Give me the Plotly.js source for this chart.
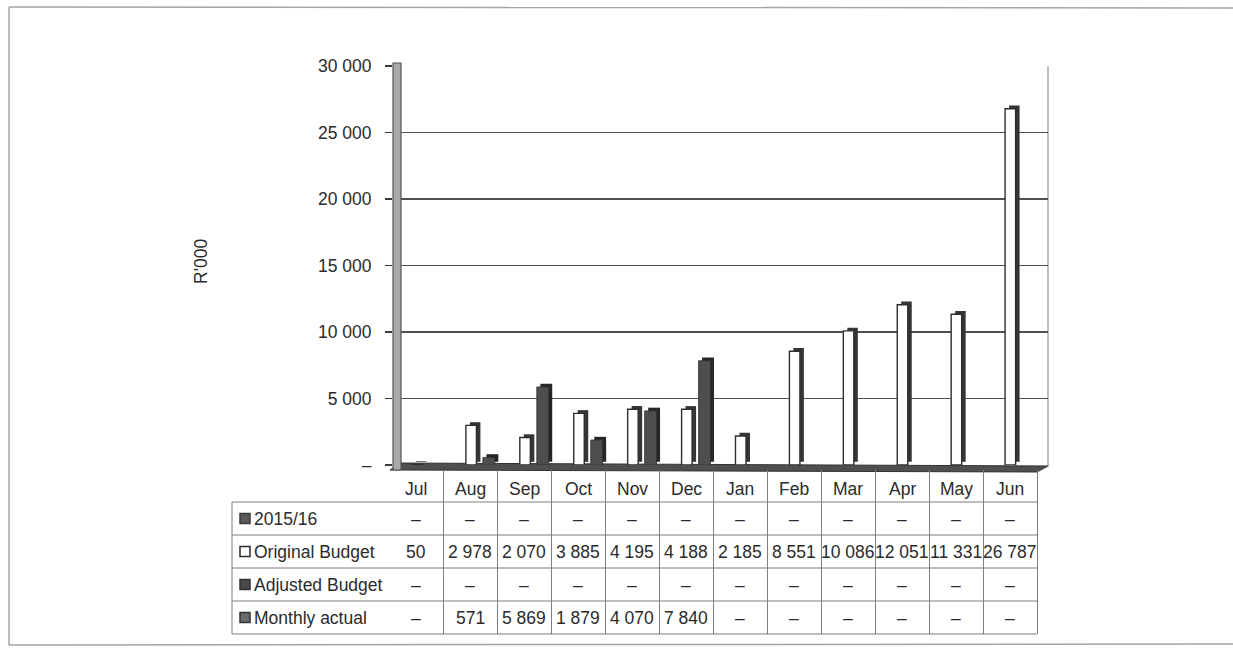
<!DOCTYPE html>
<html>
<head>
<meta charset="utf-8">
<script src="https://cdn.plot.ly/plotly-3.0.1.min.js"></script>
<style>
  html, body { margin: 0; padding: 0; background: #fff; overflow: hidden; }
  #chart { width: 1233px; height: 651px; }
</style>
</head>
<body>
<div id="chart"></div>
<script>
// Monthly figures, R'000
const months = ['Jul', 'Aug', 'Sep', 'Oct', 'Nov', 'Dec', 'Jan', 'Feb', 'Mar', 'Apr', 'May', 'Jun'];
const prior2015 = [null, null, null, null, null, null, null, null, null, null, null, null];
const originalBudget = [50, 2978, 2070, 3885, 4195, 4188, 2185, 8551, 10086, 12051, 11331, 26787];
const adjustedBudget = [null, null, null, null, null, null, null, null, null, null, null, null];
const monthlyActual = [null, 571, 5869, 1879, 4070, 7840, null, null, null, null, null, null];

const rowLabels = ['2015/16', 'Original Budget', 'Adjusted Budget', 'Monthly actual'];
const yTickVals = [0, 5000, 10000, 15000, 20000, 25000, 30000];
const yTickText = ['–', '5 000', '10 000', '15 000', '20 000', '25 000', '30 000'];

// Pick the condensed face when it exists
function fontAvailable(name) {
  const ctx = document.createElement('canvas').getContext('2d');
  const sample = 'Original Budget 30 000';
  ctx.font = '40px monospace';
  const base = ctx.measureText(sample).width;
  ctx.font = '40px "' + name + '", monospace';
  return ctx.measureText(sample).width !== base;
}
const narrow = fontAvailable('Liberation Sans Narrow');
const FONT = narrow ? '"Liberation Sans Narrow", "Liberation Sans", sans-serif' : '"Liberation Sans", Arial, sans-serif';
const FS = narrow ? 21 : 17.5;
const TEXT = '#2b2b2b';

const fmt = v => (v ? String(v).replace(/\B(?=(\d{3})+(?!\d))/g, ' ') : '–');

// plot area in pixels: x 393..1048, y 66..465
const L = 393, R = 1048, T = 66, B = 465;
const px2x = px => (px - L) / (R - L);
const py2y = py => (B - py) / (B - T);

// pseudo-3D depth of each column (value units)
const DEPTH = 240;

const traces = [
  { type: 'bar', x: months, y: originalBudget, base: DEPTH, offset: -0.222, width: 0.195,
    marker: { color: '#353535', line: { width: 0 } }, hoverinfo: 'skip', showlegend: false },
  { type: 'bar', name: 'Original Budget', x: months, y: originalBudget, offset: -0.296, width: 0.195,
    marker: { color: '#ffffff', line: { color: '#2e2e2e', width: 1.4 } }, showlegend: false },
  { type: 'bar', x: months, y: monthlyActual, base: DEPTH, offset: 0.085, width: 0.22,
    marker: { color: '#262626', line: { width: 0 } }, hoverinfo: 'skip', showlegend: false },
  { type: 'bar', name: 'Monthly actual', x: months, y: monthlyActual, offset: 0.019, width: 0.22,
    marker: { color: '#4e4e4e', line: { color: '#303030', width: 0.8 } }, showlegend: false }
];

const shapes = [];
const annotations = [];

// outer frame (open on the right)
const frameLine = { color: '#a5a5a5', width: 1.5 };
shapes.push({ type: 'line', xref: 'paper', yref: 'paper', layer: 'below',
  x0: px2x(9), x1: px2x(1233), y0: py2y(7), y1: py2y(8), line: frameLine });
shapes.push({ type: 'line', xref: 'paper', yref: 'paper', layer: 'below',
  x0: px2x(9), x1: px2x(9), y0: py2y(7), y1: py2y(645), line: frameLine });
shapes.push({ type: 'line', xref: 'paper', yref: 'paper', layer: 'below',
  x0: px2x(9), x1: px2x(1233), y0: py2y(645), y1: py2y(644), line: frameLine });

// floor
shapes.push({ type: 'path', xref: 'paper', yref: 'paper', layer: 'below',
  path: 'M ' + px2x(390) + ',' + py2y(470) + ' L ' + px2x(1037) + ',' + py2y(472) +
        ' L ' + px2x(1048) + ',' + py2y(466) + ' L ' + px2x(401) + ',' + py2y(463) + ' Z',
  fillcolor: '#4f4f4f', line: { color: '#333333', width: 1 } });

// left wall
shapes.push({ type: 'rect', xref: 'paper', yref: 'paper', layer: 'above',
  x0: px2x(393), x1: px2x(401), y0: py2y(470), y1: py2y(63),
  fillcolor: '#a9a9a9', line: { color: '#555555', width: 1.2 } });

// right wall edge
shapes.push({ type: 'line', xref: 'paper', yref: 'paper', layer: 'below',
  x0: px2x(1048), x1: px2x(1048), y0: py2y(467), y1: py2y(66),
  line: { color: '#7a7a7a', width: 1 } });

// data table grid
const rowEdges = [502, 535, 568, 601, 634];
const gridLine = { color: '#7d7d7d', width: 1 };
for (let k = 0; k <= months.length; k++) {
  shapes.push({ type: 'line', xref: 'x2', yref: 'paper', x0: k - 0.5, x1: k - 0.5,
    y0: py2y(470), y1: py2y(634), line: gridLine });
}
rowEdges.forEach(py => {
  shapes.push({ type: 'line', xref: 'paper', yref: 'paper', x0: px2x(232), x1: px2x(1037),
    y0: py2y(py), y1: py2y(py), line: gridLine });
});
shapes.push({ type: 'line', xref: 'paper', yref: 'paper', x0: px2x(232), x1: px2x(232),
  y0: py2y(502), y1: py2y(634), line: gridLine });

// legend keys in the row headers
const keyStyles = [
  { fill: '#5a5a5a', line: '#3a3a3a' },
  { fill: '#ffffff', line: '#2a2a2a' },
  { fill: '#4a4a4a', line: '#333333' },
  { fill: '#6a6a6a', line: '#333333' }
];
const rowData = [prior2015, originalBudget, adjustedBudget, monthlyActual];
rowLabels.forEach((label, r) => {
  const cy = (rowEdges[r] + rowEdges[r + 1]) / 2;
  shapes.push({ type: 'rect', xref: 'paper', yref: 'paper',
    x0: px2x(240), x1: px2x(250), y0: py2y(cy + 5), y1: py2y(cy - 5),
    fillcolor: keyStyles[r].fill, line: { color: keyStyles[r].line, width: 1.5 } });
  annotations.push({ xref: 'paper', yref: 'paper', x: px2x(252), y: py2y(cy),
    xanchor: 'left', yanchor: 'middle', showarrow: false, text: label,
    font: { family: FONT, size: FS, color: TEXT } });
  rowData[r].forEach((v, k) => {
    annotations.push({ xref: 'x2', yref: 'paper', x: k, y: py2y(cy),
      xanchor: 'center', yanchor: 'middle', showarrow: false, text: fmt(v),
      font: { family: FONT, size: FS, color: TEXT } });
  });
});

// month headers
months.forEach((m, k) => {
  annotations.push({ xref: 'x2', yref: 'paper', x: k, y: py2y(489),
    xanchor: 'center', yanchor: 'middle', showarrow: false, text: m,
    font: { family: FONT, size: FS, color: TEXT } });
});

// value axis title
annotations.push({ xref: 'paper', yref: 'paper', x: px2x(201), y: py2y(262),
  xanchor: 'center', yanchor: 'middle', showarrow: false, text: "R'000", textangle: -90,
  font: { family: FONT, size: FS, color: TEXT } });

const layout = {
  width: 1233, height: 651,
  margin: { l: L, r: 1233 - R, t: T, b: 651 - B, pad: 0 },
  paper_bgcolor: '#ffffff', plot_bgcolor: '#ffffff',
  barmode: 'overlay',
  showlegend: false,
  xaxis: { type: 'category', categoryorder: 'array', categoryarray: months,
    range: [-0.5 - 8 / 54, 11.5], showticklabels: false, ticks: '',
    showgrid: false, zeroline: false, showline: false, fixedrange: true },
  xaxis2: { type: 'linear', overlaying: 'x', anchor: 'y', side: 'bottom',
    range: [-0.435, -0.435 + (R - L) / 54], showticklabels: false, ticks: '',
    showgrid: false, zeroline: false, showline: false, fixedrange: true },
  yaxis: { range: [0, 30000], tickvals: yTickVals, ticktext: yTickText,
    ticks: 'outside', ticklen: 7, tickwidth: 1.5, tickcolor: '#3a3a3a',
    ticklabelstandoff: 10,
    showgrid: true, gridcolor: '#505050', gridwidth: 1.6,
    zeroline: false, showline: false, fixedrange: true,
    tickfont: { family: FONT, size: FS, color: TEXT } },
  shapes: shapes,
  annotations: annotations
};

Plotly.newPlot('chart', traces, layout, { staticPlot: true, displayModeBar: false });
</script>
</body>
</html>
